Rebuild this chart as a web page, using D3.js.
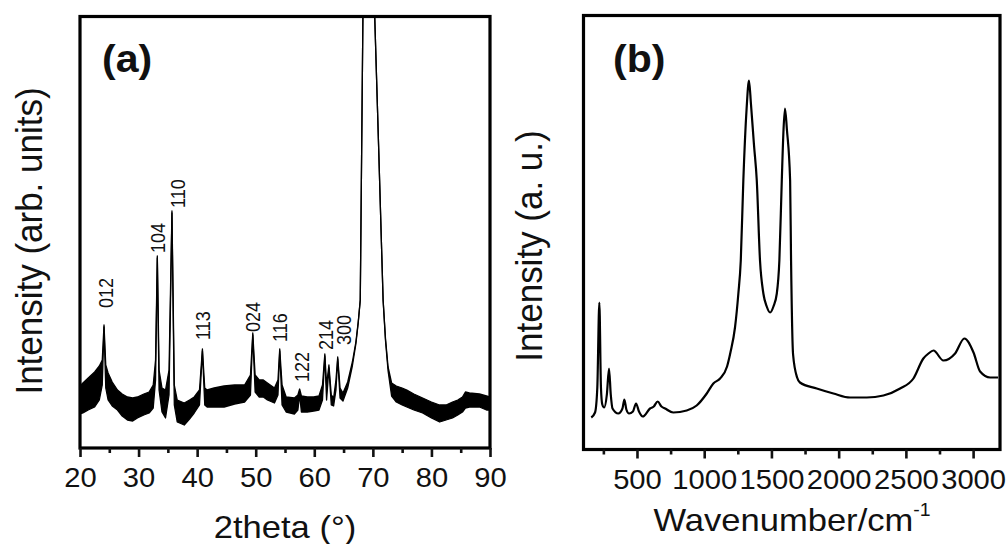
<!DOCTYPE html>
<html>
<head>
<meta charset="utf-8">
<script src="https://cdn.jsdelivr.net/npm/d3@7"></script>
<style>
  body { margin: 0; background: #fff; }
  svg { display: block; }
  text { font-family: "Liberation Sans", Arial, Helvetica, sans-serif; fill: #111; }
</style>
</head>
<body>
<svg id="fig" width="1008" height="544"></svg>
<script>
// ---------- (a) XRD pattern ----------
// 2θ in degrees; upper / lower edge of the noisy trace (arb. units)
const xrdAngle = [20.0, 20.5, 21.4, 22.5, 23.3, 23.8, 24.1, 24.4, 24.8, 25.5, 26.4, 27.2, 28.1, 29.0, 29.8,
  30.9, 31.8, 32.5, 32.9, 33.2, 33.5, 34.0, 34.6, 35.2, 35.7, 36.1, 36.6, 37.8, 38.7, 39.5,
  40.4, 40.9, 41.3, 41.7, 42.9, 44.6, 46.4, 48.1, 49.1, 49.5, 49.9, 50.6, 51.3, 52.0, 53.2,
  53.8, 54.1, 54.5, 55.2, 56.6, 57.2, 57.5, 57.8, 58.8, 59.9, 60.8, 61.4, 61.8, 62.1, 62.5,
  62.9, 63.3, 63.7, 64.0, 64.4, 64.9, 65.7, 66.5, 67.1, 67.5, 67.85, 68.3, 69.3, 70.32, 71.0,
  71.75, 72.15, 72.6, 73.2, 74.0, 75.0, 75.8, 77.0, 78.5, 80.0, 81.4, 82.5, 83.6, 84.5, 85.3,
  85.8, 86.5, 88.2, 89.4, 90.0];
const xrdUpper = [62, 65, 70, 76, 82, 88, 123, 83, 75, 66, 58, 54, 51, 50, 51,
  54, 56, 63, 88, 192, 78, 60, 58, 78, 237, 63, 48, 45, 48, 51,
  58, 99, 60, 58, 60, 62, 63, 63, 73, 115, 73, 68, 68, 65, 60,
  68, 99, 63, 51, 50, 53, 59, 52, 51, 51, 52, 63, 94, 63, 83,
  53, 50, 68, 91, 60, 55, 66, 86, 106, 126, 148, 431, 1500, 431, 298,
  148, 110, 81, 65, 62, 60, 58, 54, 50, 46, 43, 43, 46, 48, 51,
  56, 55, 54, 52, 51];
const xrdLower = [34, 35, 38, 41, 48, 63, 121, 60, 48, 42, 38, 32, 28, 27, 30,
  33, 35, 40, 68, 190, 58, 36, 30, 53, 235, 43, 26, 23, 29, 35,
  43, 97, 43, 41, 41, 41, 44, 46, 53, 113, 56, 51, 51, 48, 45,
  53, 97, 43, 36, 34, 38, 53, 36, 36, 37, 38, 48, 92, 48, 80,
  43, 42, 58, 89, 50, 47, 60, 82, 104, 125, 148, 431, 1500, 431, 298,
  148, 108, 77, 52, 46, 43, 41, 38, 35, 30, 26, 28, 30, 33, 36,
  40, 41, 41, 38, 38];

// Reflection labels: Miller indices, label position (2θ) and label foot height
const hklText   = ["012", "104", "110", "113", "024", "116", "122", "214", "300"];
const hklAngle  = [24.36, 33.26, 36.69, 40.97, 49.61, 54.23, 57.91, 61.93, 65.01];
const hklHeight = [140, 195, 240, 108, 116, 106, 66, 98, 103];
const hklFaint  = [false, false, false, false, false, false, true, false, false];

const xrdMajorTicks = [20, 30, 40, 50, 60, 70, 80, 90];
const xrdMinorTicks = [25, 35, 45, 55, 65, 75, 85];

// ---------- (b) Raman spectrum ----------
const ramanShift = [160, 188, 205, 220, 232, 242, 256, 276, 292, 305, 318, 361, 392, 406, 421,
  441, 470, 493, 515, 543, 597, 625, 654, 682, 709, 770, 870, 944, 1019, 1068,
  1118, 1170, 1195, 1229, 1254, 1272, 1291, 1315, 1333, 1348, 1370, 1391, 1415, 1440, 1465,
  1490, 1515, 1540, 1559, 1577, 1590, 1601, 1615, 1639, 1646, 1661, 1691, 1712, 1837, 1961,
  2085, 2209, 2333, 2457, 2556, 2630, 2668, 2705, 2779, 2866, 2935, 3003, 3052, 3127, 3185];
const ramanIntensity = [32, 37, 62, 147, 62, 45, 42, 55, 81, 55, 41, 36, 41, 50, 40,
  36, 38, 46, 38, 33, 41, 43, 48, 43, 41, 37, 39, 44, 56, 66,
  71, 83, 97, 122, 156, 189, 269, 340, 369, 345, 305, 269, 189, 156, 143,
  137, 143, 156, 189, 269, 320, 341, 320, 269, 189, 95, 72, 67, 61, 56,
  52, 52, 54, 61, 71, 91, 96, 99, 89, 96, 111, 97, 78, 72, 72];

const ramanMajorTicks = [500, 1000, 1500, 2000, 2500, 3000];
const ramanMinorTicks = [250, 750, 1250, 1750, 2250, 2750];

// ---------- layout ----------
const svg = d3.select("#fig");
const STRETCH = "scale(1.08,1)";

const panelA = { left: 80, right: 490, top: 16.5, bottom: 448 };
const panelB = { left: 583.5, right: 1000, top: 15.5, bottom: 449.5 };

const xA = d3.scaleLinear().domain([20, 90]).range([panelA.left, panelA.right]);
const yA = d3.scaleLinear().domain([0, 431.5]).range([panelA.bottom, panelA.top]);
const xB = d3.scaleLinear().domain([100, 3200]).range([583.2, 1000]);
const yB = d3.scaleLinear().domain([0, 434]).range([panelB.bottom, panelB.top]);

const defs = svg.append("defs");
function clip(id, p) {
  defs.append("clipPath").attr("id", id).append("rect")
    .attr("x", p.left).attr("y", p.top)
    .attr("width", p.right - p.left).attr("height", p.bottom - p.top);
}
clip("clipA", panelA);
clip("clipB", panelB);

function bottomAxis(p, x, majors, minors) {
  const gMaj = svg.append("g").attr("transform", `translate(0,${p.bottom})`)
    .call(d3.axisBottom(x).tickValues(majors).tickSize(9).tickPadding(11).tickFormat(d3.format("d")));
  gMaj.select(".domain").remove();
  gMaj.selectAll(".tick line").attr("stroke", "#111").attr("stroke-width", 2.6);
  gMaj.selectAll(".tick text")
    .attr("fill", "#1a1a1a").style("font-size", "27px")
    .attr("transform", STRETCH);
  const gMin = svg.append("g").attr("transform", `translate(0,${p.bottom})`)
    .call(d3.axisBottom(x).tickValues(minors).tickSize(5).tickFormat(""));
  gMin.select(".domain").remove();
  gMin.selectAll(".tick line").attr("stroke", "#111").attr("stroke-width", 2.6);
}

function frame(p) {
  svg.append("rect")
    .attr("x", p.left).attr("y", p.top)
    .attr("width", p.right - p.left).attr("height", p.bottom - p.top)
    .attr("fill", "none").attr("stroke", "#000").attr("stroke-width", 3.2);
}

// ---------- panel (a) ----------
const xrd = xrdAngle.map((a, i) => ({ a, hi: xrdUpper[i], lo: xrdLower[i] }));
const gA = svg.append("g").attr("clip-path", "url(#clipA)");
gA.append("path").datum(xrd)
  .attr("d", d3.area().x(d => xA(d.a)).y0(d => yA(d.lo)).y1(d => yA(d.hi)))
  .attr("fill", "#000");
[d => d.hi, d => d.lo].forEach(acc => {
  gA.append("path").datum(xrd)
    .attr("d", d3.line().x(d => xA(d.a)).y(d => yA(acc(d))))
    .attr("fill", "none").attr("stroke", "#000").attr("stroke-width", 1.3)
    .attr("stroke-linejoin", "round");
});

hklText.forEach((t, i) => {
  svg.append("text")
    .attr("transform", `translate(${xA(hklAngle[i])},${yA(hklHeight[i])}) ${STRETCH} rotate(-90)`)
    .attr("dy", "0.36em")
    .style("font-size", "18px")
    .attr("fill", hklFaint[i] ? "#777" : "#333")
    .text(t);
});

frame(panelA);
bottomAxis(panelA, xA, xrdMajorTicks, xrdMinorTicks);

svg.append("text")
  .attr("transform", `translate(102,72) ${STRETCH}`)
  .style("font-size", "38px").style("font-weight", "bold")
  .text("(a)");

svg.append("text")
  .attr("transform", `translate(${(panelA.left + panelA.right) / 2},538) ${STRETCH}`)
  .attr("text-anchor", "middle").style("font-size", "32px")
  .text("2theta (°)");

svg.append("text")
  .attr("transform", `translate(42,241) ${STRETCH} rotate(-90)`)
  .attr("text-anchor", "middle").style("font-size", "35px")
  .text("Intensity (arb. units)");

// ---------- panel (b) ----------
const raman = ramanShift.map((w, i) => ({ w, v: ramanIntensity[i] }));
svg.append("g").attr("clip-path", "url(#clipB)")
  .append("path").datum(raman)
  .attr("d", d3.line().curve(d3.curveMonotoneX).x(d => xB(d.w)).y(d => yB(d.v)))
  .attr("fill", "none").attr("stroke", "#000").attr("stroke-width", 2.2)
  .attr("stroke-linejoin", "round");

frame(panelB);
bottomAxis(panelB, xB, ramanMajorTicks, ramanMinorTicks);

svg.append("text")
  .attr("transform", `translate(613,72) ${STRETCH}`)
  .style("font-size", "38px").style("font-weight", "bold")
  .text("(b)");

const xTitleB = svg.append("text")
  .attr("transform", `translate(792,531) ${STRETCH}`)
  .attr("text-anchor", "middle").style("font-size", "32px");
xTitleB.append("tspan").text("Wavenumber/cm");
xTitleB.append("tspan").attr("dy", -15).style("font-size", "18px").text("-1");

svg.append("text")
  .attr("transform", `translate(542,246) ${STRETCH} rotate(-90)`)
  .attr("text-anchor", "middle").style("font-size", "35px")
  .text("Intensity (a. u.)");
</script>
</body>
</html>
